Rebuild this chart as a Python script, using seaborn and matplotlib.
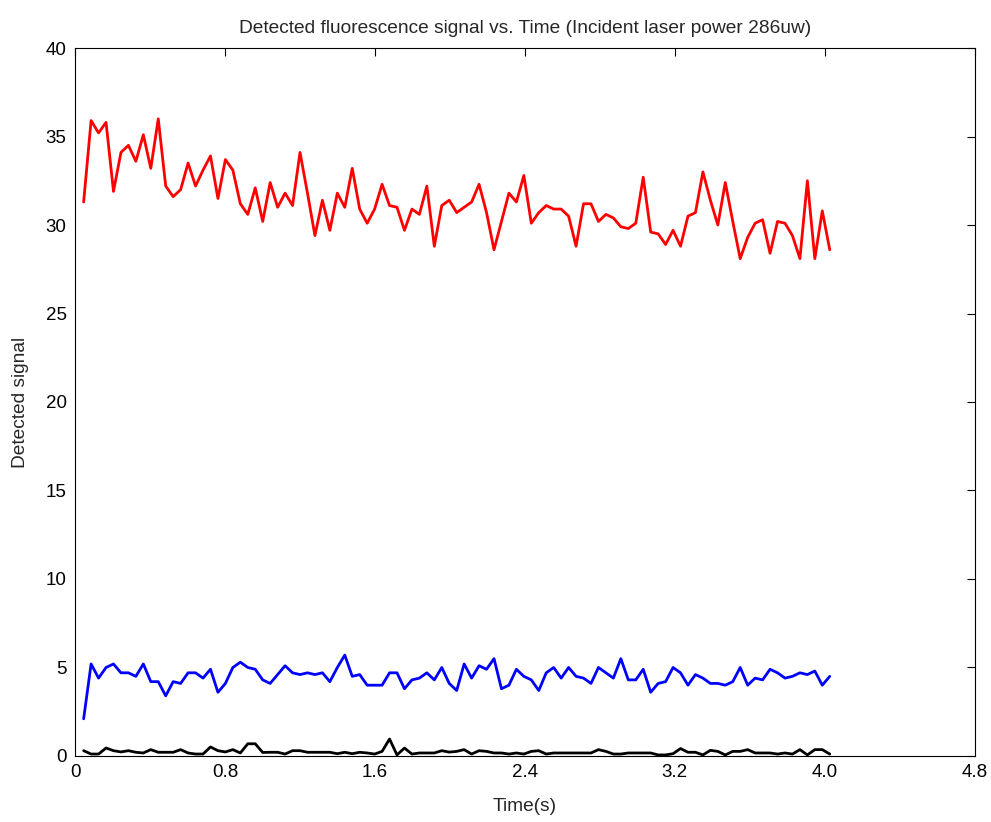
import numpy as np
import pandas as pd
import matplotlib
matplotlib.use("Agg")
import matplotlib.pyplot as plt
import seaborn as sns

# sampling times (s)
time_s = np.round(0.046 + np.arange(101) * 0.0398, 4)

red_signal = [31.3, 35.9, 35.2, 35.8, 31.9, 34.1, 34.5, 33.6, 35.1, 33.2,
              36.0, 32.2, 31.6, 32.0, 33.5, 32.2, 33.1, 33.9, 31.5, 33.7,
              33.1, 31.2, 30.6, 32.1, 30.2, 32.4, 31.0, 31.8, 31.1, 34.1,
              31.8, 29.4, 31.4, 29.7, 31.8, 31.0, 33.2, 30.9, 30.1, 30.9,
              32.3, 31.1, 31.0, 29.7, 30.9, 30.6, 32.2, 28.8, 31.1, 31.4,
              30.7, 31.0, 31.3, 32.3, 30.7, 28.6, 30.2, 31.8, 31.3, 32.8,
              30.1, 30.7, 31.1, 30.9, 30.9, 30.5, 28.8, 31.2, 31.2, 30.2,
              30.6, 30.4, 29.9, 29.8, 30.1, 32.7, 29.6, 29.5, 28.9, 29.7,
              28.8, 30.5, 30.7, 33.0, 31.4, 30.0, 32.4, 30.2, 28.1, 29.3,
              30.1, 30.3, 28.4, 30.2, 30.1, 29.4, 28.1, 32.5, 28.1, 30.8,
              28.6]

blue_signal = [2.1, 5.2, 4.4, 5.0, 5.2, 4.7, 4.7, 4.5, 5.2, 4.2,
               4.2, 3.4, 4.2, 4.1, 4.7, 4.7, 4.4, 4.9, 3.6, 4.1,
               5.0, 5.3, 5.0, 4.9, 4.3, 4.1, 4.6, 5.1, 4.7, 4.6,
               4.7, 4.6, 4.7, 4.2, 5.0, 5.7, 4.5, 4.6, 4.0, 4.0,
               4.0, 4.7, 4.7, 3.8, 4.3, 4.4, 4.7, 4.3, 5.0, 4.1,
               3.7, 5.2, 4.4, 5.1, 4.9, 5.5, 3.8, 4.0, 4.9, 4.5,
               4.3, 3.7, 4.7, 5.0, 4.4, 5.0, 4.5, 4.4, 4.1, 5.0,
               4.7, 4.4, 5.5, 4.3, 4.3, 4.9, 3.6, 4.1, 4.2, 5.0,
               4.7, 4.0, 4.6, 4.4, 4.1, 4.1, 4.0, 4.2, 5.0, 4.0,
               4.4, 4.3, 4.9, 4.7, 4.4, 4.5, 4.7, 4.6, 4.8, 4.0,
               4.5]

black_signal = [0.30, 0.11, 0.11, 0.45, 0.30, 0.23, 0.30, 0.21, 0.17, 0.36,
                0.21, 0.21, 0.21, 0.36, 0.17, 0.11, 0.11, 0.51, 0.30, 0.23,
                0.36, 0.17, 0.69, 0.69, 0.20, 0.21, 0.21, 0.11, 0.30, 0.30,
                0.21, 0.21, 0.21, 0.21, 0.13, 0.21, 0.13, 0.21, 0.17, 0.11,
                0.26, 0.96, 0.06, 0.45, 0.11, 0.17, 0.17, 0.17, 0.30, 0.22,
                0.26, 0.36, 0.11, 0.30, 0.26, 0.17, 0.17, 0.11, 0.17, 0.11,
                0.26, 0.30, 0.11, 0.17, 0.17, 0.17, 0.17, 0.17, 0.17, 0.36,
                0.26, 0.11, 0.11, 0.17, 0.17, 0.17, 0.17, 0.06, 0.06, 0.13,
                0.42, 0.21, 0.21, 0.06, 0.32, 0.26, 0.06, 0.26, 0.26, 0.36,
                0.17, 0.17, 0.17, 0.11, 0.17, 0.11, 0.36, 0.06, 0.36, 0.36,
                0.11]

x_ticks = [0, 0.8, 1.6, 2.4, 3.2, 4.0, 4.8]
x_tick_labels = ["0", "0.8", "1.6", "2.4", "3.2", "4.0", "4.8"]
y_ticks = [0, 5, 10, 15, 20, 25, 30, 35, 40]

sns.set_style("white")
plt.rcParams['font.family'] = ['Liberation Sans', 'DejaVu Sans']

fig = plt.figure(figsize=(9.91, 8.22), dpi=100)
ax = fig.add_axes([0.0757, 0.0803, 0.908, 0.8613])

df = pd.DataFrame({"t": time_s, "red": red_signal, "blue": blue_signal, "black": black_signal})
sns.lineplot(data=df, x="t", y="red", ax=ax, color="#ff0000", linewidth=2.0)
sns.lineplot(data=df, x="t", y="blue", ax=ax, color="#0000ff", linewidth=2.0)
sns.lineplot(data=df, x="t", y="black", ax=ax, color="#000000", linewidth=2.0)

ax.set_xlim(0, 4.8)
ax.set_ylim(0, 40)
ax.set_xticks(x_ticks)
ax.set_xticklabels(x_tick_labels)
ax.set_yticks(y_ticks)
ax.tick_params(direction="in", top=True, right=True, length=6, width=0.8,
               labelsize=13.5, colors="black", pad=6)
for sp in ax.spines.values():
    sp.set_visible(True)
    sp.set_color("black")
    sp.set_linewidth(0.8)

ax.set_title("Detected fluorescence signal vs. Time (Incident laser power 286uw)",
             fontsize=13.8, pad=11)
ax.set_xlabel("Time(s)", fontsize=13.8, labelpad=12)
ax.set_ylabel("Detected signal", fontsize=13.8, labelpad=12)

fig.savefig("out.png", dpi=100)
